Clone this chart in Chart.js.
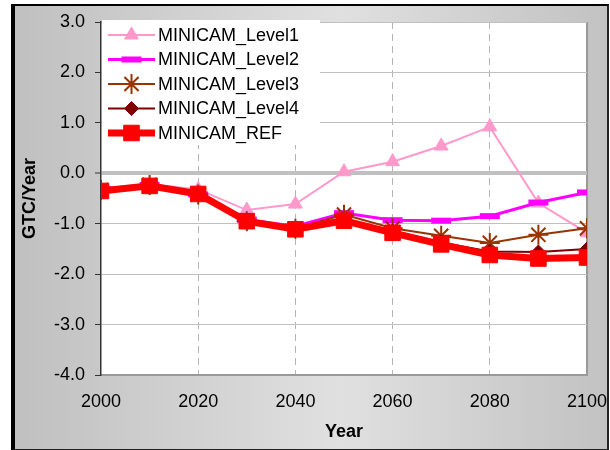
<!DOCTYPE html>
<html lang="en">
<head>
<meta charset="utf-8">
<title>MINICAM net flux</title>
<script src="https://cdn.jsdelivr.net/npm/chart.js@4.4.1/dist/chart.umd.min.js"></script>
<style>
  html, body { margin: 0; padding: 0; background: #fff; }
  #page { position: relative; width: 610px; height: 450px; overflow: hidden; }
  #frame {
    position: absolute; left: 11px; top: 4px; width: 592px; height: 443px;
    border-left: 4px solid #000; border-top: 2px solid #000;
    border-right: 2px solid #222; border-bottom: 2px solid #222;
    background: linear-gradient(to right, #c0c0c0 0%, #e0e0e0 55%, #c2c2c2 100%);
  }
  #chart { position: absolute; left: 0; top: 0; }
</style>
</head>
<body>
<div id="page">
  <div id="frame"></div>
  <canvas id="chart" width="610" height="450"></canvas>
</div>
<script>
// years on the x axis
const years = [2000, 2010, 2020, 2030, 2040, 2050, 2060, 2070, 2080, 2090, 2100];

// GTC/Year per scenario
const level1 = [-0.33, -0.22, -0.32, -0.73, -0.61, 0.03, 0.23, 0.54, 0.92, -0.59, -1.18];
const level2 = [-0.31, -0.23, -0.42, -0.92, -1.05, -0.79, -0.93, -0.94, -0.85, -0.58, -0.38];
const level3 = [-0.33, -0.23, -0.42, -0.95, -1.10, -0.82, -1.09, -1.24, -1.38, -1.22, -1.09];
const level4 = [-0.34, -0.24, -0.42, -0.95, -1.11, -0.93, -1.14, -1.37, -1.55, -1.56, -1.50];
const ref    = [-0.35, -0.25, -0.41, -0.95, -1.11, -0.94, -1.18, -1.41, -1.62, -1.69, -1.67];

const seriesNames = ['MINICAM_Level1', 'MINICAM_Level2', 'MINICAM_Level3', 'MINICAM_Level4', 'MINICAM_REF'];
const seriesValues = [level1, level2, level3, level4, ref];

const xTicks = { min: 2000, max: 2100, step: 20 };
const yTicks = { min: -4, max: 3, step: 1 };

const FONT = "'Liberation Sans', Arial, sans-serif";
const FS = 18;

const styles = [
  { color: '#ff99cc', width: 2, pointStyle: 'triangle', radius: 8, pointBorder: 1 },
  { color: '#ff00ff', width: 3, pointStyle: 'line', radius: 10, pointBorder: 6 },
  { color: '#993300', width: 2, pointStyle: 'star', radius: 10, pointBorder: 2 },
  { color: '#800000', width: 2, pointStyle: 'rectRot', radius: 7, pointBorder: 1 },
  { color: '#ff0000', width: 7, pointStyle: 'rect', radius: 11, pointBorder: 1 }
];

const datasets = seriesNames.map((name, i) => ({
  label: name,
  data: years.map((yr, j) => ({ x: yr, y: seriesValues[i][j] })),
  borderColor: styles[i].color,
  backgroundColor: styles[i].color,
  borderWidth: styles[i].width,
  pointStyle: styles[i].pointStyle,
  pointRadius: styles[i].radius,
  pointBorderWidth: styles[i].pointBorder,
  pointBackgroundColor: styles[i].color,
  pointBorderColor: styles[i].color,
  tension: 0,
  order: seriesNames.length - i   // REF drawn on top
}));

// white plot area behind everything
const plotBackground = {
  id: 'plotBackground',
  beforeDraw(chart) {
    const { ctx, chartArea: a } = chart;
    ctx.save();
    ctx.fillStyle = '#ffffff';
    ctx.fillRect(a.left, a.top, a.right - a.left, a.bottom - a.top);
    ctx.restore();
  }
};

// Excel-style legend sitting inside the top left corner of the plot
const boxLegend = {
  id: 'boxLegend',
  afterDatasetsDraw(chart) {
    const { ctx, chartArea: a } = chart;
    const drawPoint = Chart.helpers && Chart.helpers.drawPoint;
    ctx.save();
    ctx.fillStyle = '#ffffff';
    ctx.fillRect(a.left + 1, a.top - 2, 218, 125);
    ctx.font = FS + 'px ' + FONT;
    ctx.textBaseline = 'middle';
    chart.data.datasets.forEach((ds, i) => {
      const y = a.top + 13 + i * 24.5;
      const x0 = a.left + 7, x1 = a.left + 54, xm = (x0 + x1) / 2;
      ctx.strokeStyle = ds.borderColor;
      ctx.lineWidth = ds.borderWidth;
      ctx.lineCap = 'butt';
      ctx.beginPath();
      ctx.moveTo(x0, y);
      ctx.lineTo(x1, y);
      ctx.stroke();
      if (drawPoint) {
        ctx.fillStyle = ds.pointBackgroundColor;
        ctx.strokeStyle = ds.pointBorderColor;
        ctx.lineWidth = ds.pointBorderWidth;
        drawPoint(ctx, { pointStyle: ds.pointStyle, radius: ds.pointRadius, borderWidth: ds.pointBorderWidth, rotation: 0 }, xm, y);
      }
      ctx.fillStyle = '#000000';
      ctx.fillText(ds.label, a.left + 57, y + 1);
    });
    ctx.restore();
  }
};

new Chart(document.getElementById('chart'), {
  type: 'line',
  data: { datasets },
  options: {
    responsive: false,
    animation: false,
    devicePixelRatio: 1,
    layout: { padding: { left: 0, right: 23, top: 22, bottom: 0 } },
    plugins: { legend: { display: false }, tooltip: { enabled: false } },
    scales: {
      x: {
        type: 'linear',
        min: xTicks.min,
        max: xTicks.max,
        afterFit(scale) { scale.height = 75; scale.paddingLeft = 0; scale.paddingRight = 0; },
        ticks: {
          stepSize: xTicks.step,
          padding: 16,
          color: '#000',
          font: { family: FONT, size: FS },
          maxRotation: 0,
          callback: v => String(v)
        },
        grid: {
          drawTicks: false,
          color: c => c.tick && c.tick.value === xTicks.min ? 'rgba(0,0,0,0)' : (c.tick && c.tick.value === xTicks.max ? '#999999' : '#b4b4b4'),
          lineWidth: c => c.tick && c.tick.value === xTicks.max ? 2 : 1
        },
        border: {
          color: '#999999',
          width: 2,
          dash: c => c.tick && c.tick.value !== xTicks.max && c.tick.value !== xTicks.min ? [7, 5] : []
        },
        title: {
          display: true,
          text: 'Year',
          color: '#000',
          font: { family: FONT, size: FS, weight: 'bold' },
          padding: { top: 0, bottom: 7 }
        }
      },
      y: {
        min: yTicks.min,
        max: yTicks.max,
        afterFit(scale) { scale.width = 101; scale.paddingTop = 0; scale.paddingBottom = 0; },
        ticks: {
          stepSize: yTicks.step,
          padding: 10,
          color: '#000',
          font: { family: FONT, size: FS },
          callback: v => Number(v).toFixed(1)
        },
        grid: {
          color: '#c0c0c0',
          lineWidth: c => c.tick && c.tick.value === 0 ? 4 : 1,
          tickColor: '#333333',
          tickLength: 6,
          tickWidth: 1
        },
        border: { color: '#333333', width: 1.5 },
        title: {
          display: true,
          text: 'GTC/Year',
          color: '#000',
          font: { family: FONT, size: FS, weight: 'bold' },
          padding: { top: 19, bottom: 0 }
        }
      }
    }
  },
  plugins: [plotBackground, boxLegend]
});
</script>
</body>
</html>
